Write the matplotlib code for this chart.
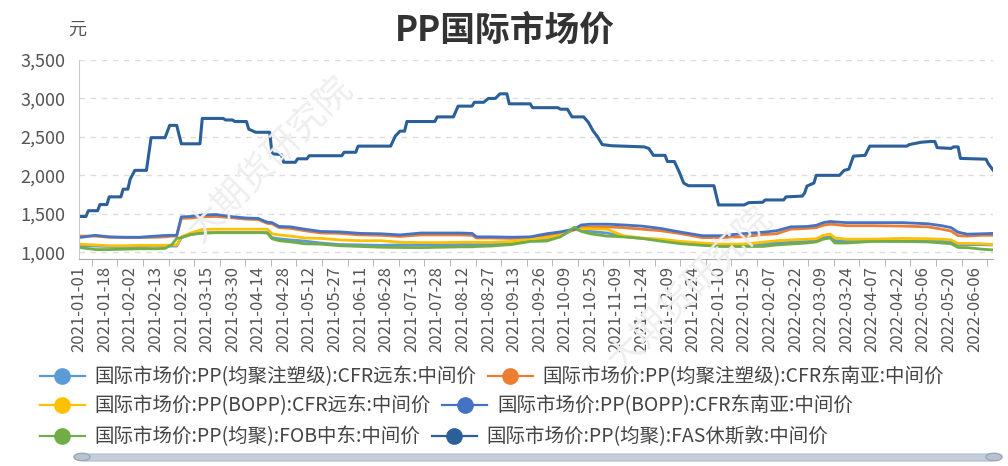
import matplotlib
matplotlib.use("Agg")
import matplotlib.pyplot as plt
from matplotlib.lines import Line2D
from matplotlib.patches import FancyBboxPatch, Circle

plt.rcParams['font.family'] = ['Noto Sans CJK SC', 'DejaVu Sans']

# ---------------- data ----------------
# x axis is a category axis of trading days, a label shown every 11 days
tick_dates = [
    "2021-01-01", "2021-01-18", "2021-02-02", "2021-02-13", "2021-02-26", "2021-03-15",
    "2021-03-30", "2021-04-14", "2021-04-28", "2021-05-12", "2021-05-27", "2021-06-11",
    "2021-06-28", "2021-07-13", "2021-07-28", "2021-08-12", "2021-08-27", "2021-09-13",
    "2021-09-26", "2021-10-09", "2021-10-25", "2021-11-09", "2021-11-24", "2021-12-09",
    "2021-12-24", "2022-01-10", "2022-01-25", "2022-02-07", "2022-02-22", "2022-03-09",
    "2022-03-24", "2022-04-07", "2022-04-22", "2022-05-06", "2022-05-20", "2022-06-06",
]
label_every = 11
n_days = 394

series_names = [
    "国际市场价:PP(均聚注塑级):CFR远东:中间价",
    "国际市场价:PP(均聚注塑级):CFR东南亚:中间价",
    "国际市场价:PP(BOPP):CFR远东:中间价",
    "国际市场价:PP(BOPP):CFR东南亚:中间价",
    "国际市场价:PP(均聚):FOB中东:中间价",
    "国际市场价:PP(均聚):FAS休斯敦:中间价",
]
colors = ["#5b9bd5", "#ed7d31", "#ffc000", "#4472c4", "#70ad47", "#2a5f9a"]

# day index of the samples read for the five lower series
low_idx = [0, 7, 13, 20, 26, 33, 37, 40, 42, 44, 48, 53, 59, 65, 72, 77, 81, 83, 86, 91,
           97, 104, 112, 121, 130, 138, 147, 156, 164, 169, 171, 177, 186, 194, 201, 207,
           213, 216, 220, 227, 234, 242, 250, 259, 268, 276, 285, 294, 300, 306, 313, 317,
           320, 323, 325, 330, 341, 354, 365, 371, 375, 378, 382, 388, 393]

cfr_fe = [1085, 1080, 1075, 1075, 1075, 1080, 1080, 1080, 1080, 1190, 1230, 1250, 1255, 1255,
          1255, 1255, 1255, 1190, 1175, 1160, 1145, 1120, 1100, 1095, 1090, 1095, 1095, 1095,
          1100, 1100, 1100, 1100, 1110, 1150, 1175, 1210, 1300, 1280, 1270, 1250, 1205, 1180,
          1160, 1120, 1095, 1080, 1080, 1110, 1120, 1130, 1140, 1150, 1190, 1200, 1150, 1150,
          1150, 1145, 1140, 1140, 1130, 1100, 1100, 1098, 1095]
cfr_sea = [1210, 1210, 1195, 1190, 1190, 1195, 1200, 1210, 1210, 1440, 1445, 1460, 1465, 1450,
           1430, 1425, 1375, 1370, 1320, 1310, 1280, 1250, 1245, 1225, 1220, 1205, 1225, 1225,
           1225, 1220, 1185, 1185, 1180, 1185, 1215, 1245, 1290, 1320, 1330, 1330, 1320, 1300,
           1280, 1240, 1190, 1190, 1200, 1230, 1240, 1300, 1310, 1320, 1350, 1365, 1360, 1345,
           1345, 1340, 1330, 1300, 1275, 1215, 1210, 1220, 1220]
bopp_fe = [1105, 1095, 1085, 1085, 1090, 1090, 1090, 1095, 1095, 1200, 1250, 1295, 1300, 1300,
           1300, 1300, 1300, 1240, 1225, 1210, 1185, 1180, 1160, 1150, 1150, 1130, 1125, 1125,
           1130, 1130, 1130, 1130, 1140, 1170, 1190, 1220, 1310, 1305, 1305, 1300, 1215, 1185,
           1170, 1140, 1120, 1105, 1105, 1130, 1150, 1160, 1170, 1175, 1220, 1235, 1185, 1170,
           1170, 1180, 1175, 1170, 1160, 1115, 1115, 1110, 1100]
bopp_sea = [1190, 1220, 1200, 1195, 1195, 1210, 1218, 1220, 1220, 1460, 1465, 1485, 1490, 1465,
            1445, 1440, 1390, 1385, 1335, 1330, 1300, 1270, 1265, 1245, 1240, 1225, 1250, 1250,
            1250, 1245, 1200, 1200, 1195, 1200, 1240, 1265, 1300, 1355, 1365, 1365, 1355, 1340,
            1310, 1260, 1215, 1215, 1240, 1260, 1280, 1330, 1335, 1350, 1385, 1400, 1395, 1385,
            1385, 1385, 1370, 1345, 1320, 1260, 1235, 1240, 1245]
fob_me = [1062, 1035, 1035, 1040, 1045, 1045, 1050, 1100, 1180, 1190, 1230, 1250, 1255, 1255,
          1255, 1255, 1250, 1175, 1150, 1135, 1110, 1105, 1085, 1075, 1065, 1062, 1060, 1065,
          1070, 1070, 1075, 1080, 1100, 1140, 1145, 1200, 1325, 1270, 1240, 1210, 1200, 1180,
          1145, 1110, 1090, 1075, 1075, 1075, 1095, 1107, 1120, 1134, 1170, 1185, 1120, 1120,
          1140, 1140, 1134, 1120, 1110, 1062, 1060, 1040, 1030]

# FAS Houston moves in steps: day index of each turning point and its value
fas_idx = [0, 3, 4, 8, 9, 12, 13, 18, 19, 21, 22, 24, 29, 31, 37, 39, 42, 44, 52, 53,
           62, 63, 66, 67, 72, 73, 76, 82, 83, 87, 88, 93, 94, 98, 99, 113, 114, 119, 120, 134,
           136, 138, 140, 141, 153, 154, 161, 163, 169, 170, 174, 176, 179, 181, 184, 185, 194, 195, 206, 207,
           210, 212, 217, 219, 221, 223, 225, 229, 243, 245, 247, 252, 253, 256, 258, 260, 262, 273, 275, 286,
           288, 294, 295, 303, 304, 311, 312, 313, 316, 317, 327, 329, 331, 333, 338, 340, 356, 357, 362, 366,
           368, 369, 375, 376, 378, 379, 390, 391, 393]
fas_val = [1465, 1465, 1540, 1540, 1620, 1620, 1720, 1720, 1820, 1820, 1950, 2065, 2065, 2490, 2490, 2650, 2650, 2410, 2410, 2740,
           2740, 2720, 2720, 2700, 2700, 2600, 2560, 2560, 2280, 2270, 2170, 2170, 2215, 2215, 2255, 2255, 2300, 2300, 2380, 2380,
           2510, 2575, 2575, 2700, 2700, 2760, 2760, 2900, 2900, 2950, 2950, 3000, 3000, 3060, 3060, 2930, 2930, 2880, 2880, 2860,
           2860, 2760, 2760, 2690, 2580, 2500, 2400, 2385, 2370, 2350, 2260, 2260, 2180, 2180, 2050, 1900, 1865, 1865, 1615, 1615,
           1645, 1650, 1680, 1680, 1720, 1730, 1770, 1860, 1900, 2000, 2000, 2065, 2080, 2250, 2260, 2380, 2380, 2400, 2430, 2440,
           2440, 2360, 2350, 2370, 2370, 2220, 2210, 2150, 2070]

y_ticks = [1000, 1500, 2000, 2500, 3000, 3500]
# --------------------------------------

fig = plt.figure(figsize=(10.08, 4.66), dpi=100)
ax = fig.add_axes([79 / 1008, 1 - 259 / 466, 914 / 1008, 199 / 466])

low_series = [cfr_fe, cfr_sea, bopp_fe, bopp_sea, fob_me]
for vals, c in zip(low_series, colors[:5]):
    ax.plot(low_idx, vals, color=c, lw=2.0, solid_joinstyle="round")
ax.plot(fas_idx, fas_val, color=colors[5], lw=2.2, solid_joinstyle="round")

ax.set_xlim(0, n_days - 1)
ax.set_ylim(912, 3500)
ax.set_yticks(y_ticks)
ax.set_yticklabels([f"{v:,}" for v in y_ticks])
ax.grid(axis="y", color="#dcdcdc", ls=(0, (4, 4)), lw=1)
ax.set_axisbelow(True)

tick_pos = [i * label_every for i in range(len(tick_dates))]
ax.set_xticks(tick_pos)
ax.set_xticklabels(tick_dates, rotation=90, fontsize=12, color="#555555")
ax.set_xticks([p + label_every / 2 for p in tick_pos], minor=True)
ax.tick_params(axis="x", which="major", length=0, pad=5)
ax.tick_params(axis="x", which="minor", length=5, color="#aaaaaa")
ax.tick_params(axis="y", length=0, labelsize=13, labelcolor="#555555", pad=10)

for s in ["top", "right"]:
    ax.spines[s].set_visible(False)
ax.spines["left"].set_color("#cccccc")
ax.spines["bottom"].set_color("#aaaaaa")

fig.text(505 / 1008, 1 - 30 / 466, "PP国际市场价", ha="center", va="center",
         fontsize=25, fontweight="bold", color="#333333")
fig.text(68 / 1008, 1 - 30 / 466, "元", ha="left", va="center", fontsize=13, color="#555555")

# watermark
for (wx, wy) in [(270, 160), (690, 290)]:
    fig.text(wx / 1008, 1 - wy / 466, "大期货研究院", rotation=45, ha="center", va="center",
             fontsize=26, color="#eeeeee", zorder=0)

# legend, three rows starting at the left like the original
rows = [(0, 1, 377), (2, 3, 406), (4, 5, 437)]
for a, b, ry in rows:
    handles = [Line2D([], [], color=colors[k], lw=1.6, marker="o", markersize=11,
                      markeredgecolor=colors[k]) for k in (a, b)]
    fig.legend(handles, [series_names[a], series_names[b]], loc="center left",
               bbox_to_anchor=(40 / 1008, 1 - ry / 466), ncol=2, frameon=False,
               fontsize=14, handlelength=2.3, columnspacing=0.6, handletextpad=0.5,
               borderpad=0, borderaxespad=0, labelcolor="#444444")

# data zoom slider at the bottom
bar = FancyBboxPatch((82 / 1008, 1 - 461 / 466), 912 / 1008, 7 / 466,
                     boxstyle="round,pad=0,rounding_size=0.004", transform=fig.transFigure,
                     facecolor="#c5cfdc", edgecolor="#b0bccc", lw=0.8)
fig.patches.append(bar)
for hx in (82, 994):
    fig.patches.append(Circle((hx / 1008, 1 - 457 / 466), 0.008, transform=fig.transFigure,
                              facecolor="#b8c3d1", edgecolor="#9aa7b8", lw=1))

fig.savefig("out.png", dpi=100)
